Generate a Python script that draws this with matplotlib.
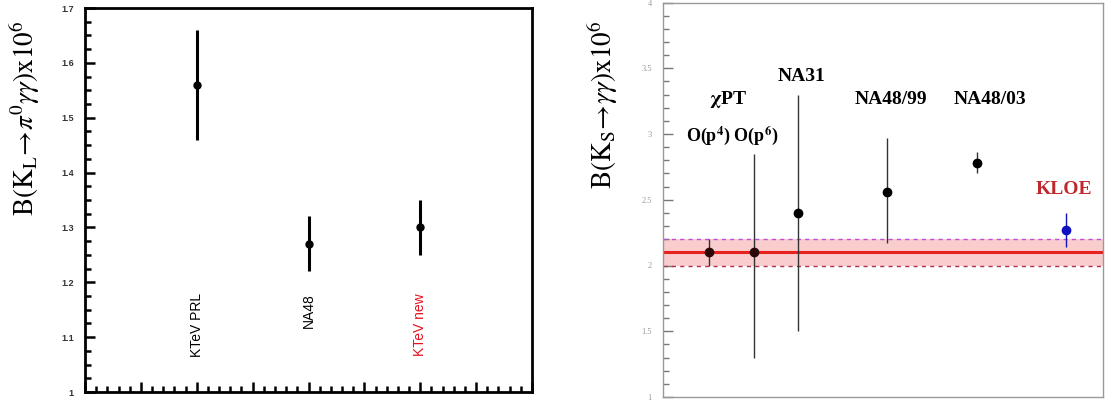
import matplotlib
matplotlib.use("Agg")
import matplotlib.pyplot as plt
from matplotlib.ticker import MultipleLocator

plt.rcParams['mathtext.fontset'] = 'stix'

# left panel: B(KL -> pi0 gamma gamma)
kl_names = ['KTeV PRL', 'NA48', 'KTeV new']
kl_x = [2, 4, 6]
kl_val = [1.56, 1.27, 1.30]
kl_err = [0.10, 0.05, 0.05]
kl_colors = ['black', 'black', '#e8101e']

# right panel: B(KS -> gamma gamma)
ks_names = ['O(p4)', 'O(p6)', 'NA31', 'NA48/99', 'NA48/03', 'KLOE']
ks_x = [1, 2, 3, 5, 7, 9]
ks_val = [2.10, 2.10, 2.40, 2.56, 2.78, 2.27]
ks_lo = [0.10, 0.80, 0.90, 0.39, 0.08, 0.13]
ks_hi = [0.10, 0.75, 0.90, 0.41, 0.08, 0.13]
ks_colors = ['#2a0606', '#2a0606', 'black', 'black', 'black', '#1010c0']
band_mid, band_lo, band_hi = 2.1, 2.0, 2.2

fig = plt.figure(figsize=(11.07, 4.03), dpi=100)

# ---- left
ax1 = fig.add_axes([85/1107, 1-392/403, 447/1107, 384/403])
for x, v, e, c in zip(kl_x, kl_val, kl_err, kl_colors):
    ax1.errorbar(x, v, yerr=e, fmt='o', color='black', ms=5, elinewidth=2.2, capsize=0)
for x, n, c in zip(kl_x, kl_names, kl_colors):
    ax1.text(x, 1.18, n, rotation=90, ha='center', va='top', color=c,
             fontsize=10, family='Liberation Sans')
ax1.set_xlim(0, 8)
ax1.set_ylim(1.0, 1.7)
ax1.xaxis.set_major_locator(MultipleLocator(1))
ax1.xaxis.set_minor_locator(MultipleLocator(0.2))
ax1.yaxis.set_major_locator(MultipleLocator(0.1))
ax1.yaxis.set_minor_locator(MultipleLocator(0.025))
ax1.tick_params(which='both', direction='in', top=False, right=False, width=1.8)
ax1.tick_params(which='major', length=7, labelsize=6.5, pad=8, labelcolor='#333333')
ax1.tick_params(which='minor', length=4)
ax1.tick_params(axis='x', labelbottom=False)
ax1.set_yticks([1.0, 1.1, 1.2, 1.3, 1.4, 1.5, 1.6, 1.7])
ax1.set_yticklabels(['1', '1.1', '1.2', '1.3', '1.4', '1.5', '1.6', '1.7'],
                    family='Liberation Sans', weight='bold')
for s in ax1.spines.values():
    s.set_linewidth(2)
fig.text(25/1107, 1-118/403,
         r'$\mathrm{B(K_L\!\rightarrow\!}\pi^0\gamma\gamma\mathrm{)x10^6}$',
         rotation=90, ha='center', va='center', fontsize=19.5)

# ---- right
ax2 = fig.add_axes([663/1107, 1-397/403, 440/1107, 394.5/403])
ax2.axhspan(band_lo, band_hi, color='#f7b8b8', alpha=0.7, lw=0)
ax2.axhline(band_mid, color='#e8201e', lw=2.2)
ax2.axhline(band_hi, color='#c050d0', lw=1, ls=(0, (3, 3)))
ax2.axhline(band_lo, color='#b03050', lw=1, ls=(0, (3, 3)))
for x, v, lo, hi, c in zip(ks_x, ks_val, ks_lo, ks_hi, ks_colors):
    ax2.errorbar(x, v, yerr=[[lo], [hi]], fmt='o', color=c, ecolor='#333333' if c != '#1010c0' else c,
                 ms=6, elinewidth=1, capsize=0, zorder=3)
ax2.set_xlim(-0.03, 9.83)
ax2.set_ylim(1.0, 4.0)
ax2.yaxis.set_major_locator(MultipleLocator(0.5))
ax2.yaxis.set_minor_locator(MultipleLocator(0.1))
ax2.tick_params(axis='x', which='both', bottom=False, labelbottom=False)
ax2.tick_params(axis='y', which='both', direction='in', right=False, color='#777777', width=1)
ax2.tick_params(axis='y', which='major', length=7, labelsize=6, pad=8, labelcolor='#999999')
ax2.tick_params(axis='y', which='minor', length=4)
ax2.set_yticks([1, 1.5, 2, 2.5, 3, 3.5, 4])
ax2.set_yticklabels(['1', '1.5', '2', '2.5', '3', '3.5', '4'], family='Liberation Serif')
for s in ax2.spines.values():
    s.set_color('#999999')
    s.set_linewidth(1)

lbl = dict(family='Liberation Serif', weight='bold', fontsize=14, ha='center', va='center')
ax2.text(1.43, 3.26, r'$\mathbf{\chi}$PT', **lbl)
ax2.text(1.52, 2.99, r'O(p$^{\mathbf{4}}$) O(p$^{\mathbf{6}}$)', **dict(lbl, fontsize=13))
ax2.text(3.08, 3.44, 'NA31', **lbl)
ax2.text(5.08, 3.26, 'NA48/99', **lbl)
ax2.text(7.29, 3.26, 'NA48/03', **lbl)
ax2.text(8.96, 2.58, 'KLOE', color='#c0282d', **lbl)
fig.text(603/1107, 1-105/403,
         r'$\mathrm{B(K_S\!\rightarrow\!}\gamma\gamma\mathrm{)x10^6}$',
         rotation=90, ha='center', va='center', fontsize=19.5)

fig.savefig('out.png', dpi=100)
